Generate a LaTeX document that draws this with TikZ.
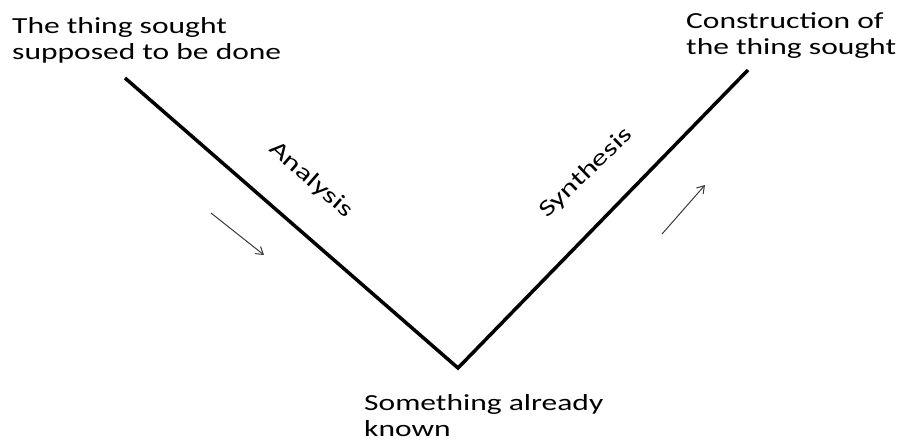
\documentclass[tikz,border=0pt]{standalone}
\usepackage{fontspec}
\setmainfont[FakeStretch=1.37]{Carlito}
\usetikzlibrary{arrows.meta, positioning}
\definecolor{vline}{HTML}{000000}
\definecolor{hint}{HTML}{3A3A3A}
\tikzset{
  leg/.style   = {draw=vline, line width=3.5pt, line cap=butt, line join=miter},
  cue/.style   = {-{Straight Barb[length=7pt, width=9pt]}, draw=hint, line width=1pt},
  caption/.style = {align=left, inner sep=0pt, font=\fontsize{23}{26.5}\selectfont},
  side/.style  = {inner sep=0pt, font=\fontsize{23}{26.5}\selectfont}
}
\begin{document}
\begin{tikzpicture}[x=1pt, y=-1pt]
  \useasboundingbox (0,0) rectangle (898,444);
  % the V
  \coordinate (top left) at (125,78);
  \coordinate (bottom)   at (458,368);
  \coordinate (top right) at (748,70);
  \draw[leg] (top left) -- (bottom) -- (top right);
  % end labels
  \node[caption, anchor=north west] (sought) at (12,17)
       {The thing sought\\supposed to be done};
  \node[caption, anchor=north west] (built) at (686,12)
       {Construction of\\the thing sought};
  \node[caption, anchor=north west] (known) at (364,394)
       {Something already\\known};
  % leg names
  \node[side, rotate=-41] (analysis) at (311,180) {Analysis};
  \node[side, rotate=44]  (synthesis) at (586,173) {Synthesis};
  % direction cues
  \coordinate (down from) at (211,213);
  \coordinate (down to)   at (264,255);
  \coordinate (up from)   at (662,234);
  \coordinate (up to)     at (705,185);
  \draw[cue] (down from) -- (down to);
  \draw[cue] (up from) -- (up to);
\end{tikzpicture}
\end{document}
